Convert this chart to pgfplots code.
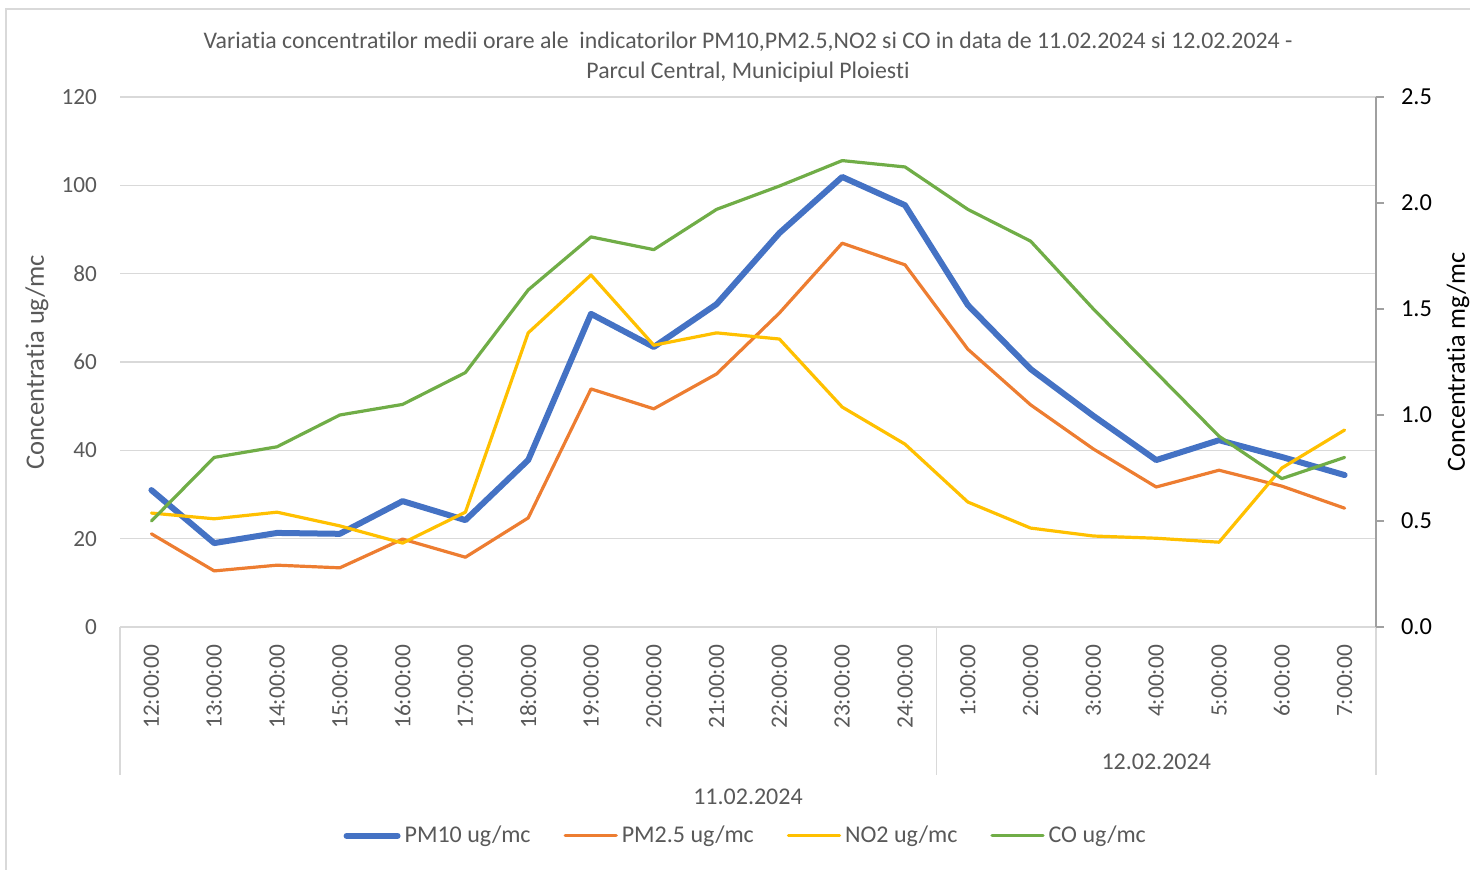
\documentclass[border=0pt]{standalone}
\usepackage{fontspec}
\setmainfont{Carlito}[Ligatures=NoCommon]
\usepackage{pgfplots}
\usepackage{pgfplotstable}
\pgfplotsset{compat=1.18}

\definecolor{pmBlue}{HTML}{4472C4}
\definecolor{pmOrange}{HTML}{ED7D31}
\definecolor{noYellow}{HTML}{FFC000}
\definecolor{coGreen}{HTML}{70AD47}
\definecolor{txtGrey}{HTML}{595959}
\definecolor{gridGrey}{HTML}{D9D9D9}
\definecolor{axGrey}{HTML}{A0A0A0}

% hourly means, 11.02.2024 12:00 -> 12.02.2024 7:00 (co on the right axis, mg/mc)
\pgfplotstableread{
x  pmten pmtwo no2  co
0  31.0  21.1  25.8 0.50
1  19.0  12.7  24.5 0.80
2  21.3  14.0  26.0 0.85
3  21.1  13.4  22.9 1.00
4  28.5  19.9  19.0 1.05
5  24.2  15.8  26.0 1.20
6  37.8  24.7  66.6 1.59
7  70.9  53.9  79.7 1.84
8  63.4  49.4  63.8 1.78
9  73.1  57.3  66.6 1.97
10 89.2  71.1  65.2 2.08
11 101.9 86.9  49.8 2.20
12 95.5  82.0  41.4 2.17
13 72.9  62.9  28.3 1.97
14 58.4  50.3  22.4 1.82
15 47.8  40.3  20.6 1.50
16 37.8  31.7  20.1 1.20
17 42.3  35.5  19.2 0.90
18 38.5  31.9  36.0 0.70
19 34.4  26.9  44.6 0.80
}\datatable

\begin{document}
\begin{tikzpicture}
% outer chart frame (only left and top edges show in the crop)
\draw[gridGrey, line width=0.8pt] (3pt,-5pt) -- (3pt,430pt) -- (740pt,430pt);

\node[font=\fontsize{11.9}{15}\selectfont, text=txtGrey, align=center] at (374pt,406pt)
  {Variatia concentratilor medii orare ale\ \ indicatorilor PM10,PM2.5,NO2 si CO in data de 11.02.2024 si 12.02.2024 -\\Parcul Central, Municipiul Ploiesti};

% ===== left axis: ug/mc =====
\begin{axis}[
    at={(60pt,121pt)}, anchor=south west,
    scale only axis, width=628pt, height=265pt,
    xmin=-0.5, xmax=19.5, ymin=0, ymax=120,
    axis lines*=left,
    x axis line style={gridGrey, line width=0.8pt},
    y axis line style={draw=none},
    xtick={0,...,19},
    xticklabels={12:00:00,13:00:00,14:00:00,15:00:00,16:00:00,17:00:00,18:00:00,19:00:00,20:00:00,21:00:00,22:00:00,23:00:00,24:00:00,1:00:00,2:00:00,3:00:00,4:00:00,5:00:00,6:00:00,7:00:00},
    % rotated node: xshift runs along the text, i.e. vertically on the page
    xticklabel style={rotate=90, anchor=east, font=\fontsize{11.7}{14}\selectfont, text=txtGrey, xshift=-5.5pt},
    ytick={0,20,...,120},
    yticklabel style={font=\fontsize{11.6}{14}\selectfont, text=txtGrey, xshift=-8pt,
        /pgf/number format/assume math mode=true},
    xtick style={draw=none}, ytick style={draw=none},
    ymajorgrids, grid style={gridGrey, line width=0.8pt},
    every axis y label/.style={at={(axis description cs:0,0.5)}, rotate=90, anchor=center, yshift=41.5pt},
    ylabel={Concentratia ug/mc},
    ylabel style={font=\fontsize{13.3}{16}\selectfont, text=txtGrey},
    every axis plot/.append style={line join=round, line cap=round},
    legend columns=4,
    legend style={at={(axis description cs:0.499,-0.394)}, anchor=center, draw=none,
        font=\fontsize{12}{14}\selectfont, text=txtGrey,
        /tikz/every even column/.append style={column sep=14.5pt}},
    legend image code/.code={\draw[#1] (1pt,0pt) -- (26.5pt,0pt);},
    clip=false,
]
\addplot[pmBlue, line width=3pt] table[x=x, y=pmten] {\datatable};
\addlegendentry{PM10 ug/mc}
\addplot[pmOrange, line width=1.6pt] table[x=x, y=pmtwo] {\datatable};
\addlegendentry{PM2.5 ug/mc}
\addplot[noYellow, line width=1.6pt] table[x=x, y=no2] {\datatable};
\addlegendentry{NO2 ug/mc}
\addlegendimage{coGreen, line width=1.6pt}
\addlegendentry{CO ug/mc}

% category group separators and date labels
\draw[gridGrey, line width=0.8pt] (axis cs:-0.5,0) -- ++(0pt,-74pt);
\draw[gridGrey, line width=0.8pt] (axis cs:12.5,0) -- ++(0pt,-74pt);
\draw[gridGrey, line width=0.8pt] (axis cs:19.5,0) -- ++(0pt,-74pt);
\node[font=\fontsize{12}{14}\selectfont, text=txtGrey] at (axis cs:16,0) [yshift=-67.5pt] {12.02.2024};
\node[font=\fontsize{12}{14}\selectfont, text=txtGrey] at (axis cs:9.5,0) [yshift=-85pt] {11.02.2024};
\end{axis}

% ===== right axis: mg/mc =====
\begin{axis}[
    at={(60pt,121pt)}, anchor=south west,
    scale only axis, width=628pt, height=265pt,
    xmin=-0.5, xmax=19.5, ymin=0, ymax=2.5,
    axis y line*=right, axis x line=none,
    y axis line style={axGrey, line width=0.8pt},
    ytick={0,0.5,1,1.5,2,2.5},
    tick align=outside, major tick length=4pt,
    ytick style={axGrey, line width=0.8pt},
    yticklabel style={font=\fontsize{12.2}{14}\selectfont, text=black, xshift=5pt,
        /pgf/number format/.cd, fixed, fixed zerofill, precision=1, assume math mode=true},
    every axis y label/.style={at={(axis description cs:1,0.5)}, rotate=90, anchor=center, yshift=-41pt},
    ylabel={Concentratia mg/mc},
    ylabel style={font=\fontsize{13.1}{16}\selectfont, text=black},
    every axis plot/.append style={line join=round, line cap=round},
    clip=false,
]
\addplot[coGreen, line width=1.6pt] table[x=x, y=co] {\datatable};
\end{axis}

\pgfresetboundingbox
\useasboundingbox (0pt,0pt) rectangle (735pt,434.5pt);
\end{tikzpicture}
\end{document}
